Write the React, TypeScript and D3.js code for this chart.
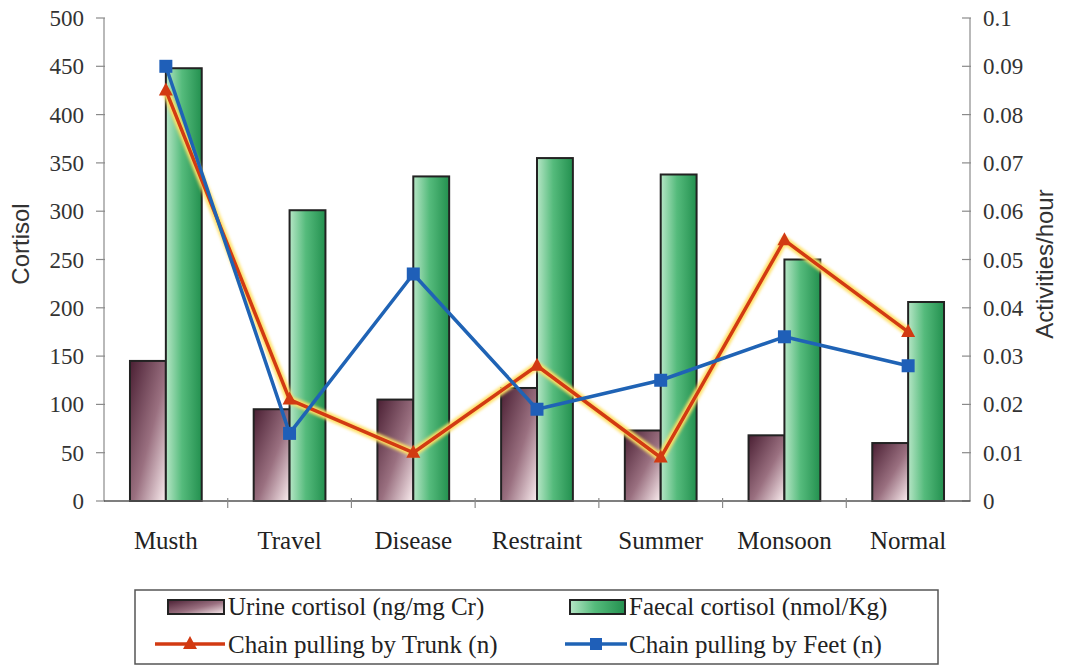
import React from "react";
import * as d3 from "d3";

const categories = ["Musth", "Travel", "Disease", "Restraint", "Summer", "Monsoon", "Normal"];
const urineCortisol = [145, 95, 105, 117, 73, 68, 60];
const faecalCortisol = [448, 301, 336, 355, 338, 250, 206];
const chainTrunk = [0.085, 0.021, 0.01, 0.028, 0.009, 0.054, 0.035];
const chainFeet = [0.09, 0.014, 0.047, 0.019, 0.025, 0.034, 0.028];
const leftTicks = [0, 50, 100, 150, 200, 250, 300, 350, 400, 450, 500];
const rightTicks = [0, 0.01, 0.02, 0.03, 0.04, 0.05, 0.06, 0.07, 0.08, 0.09, 0.1];

const W = 1075, H = 668;
const X0 = 104, X1 = 970, Y0 = 501, Y1 = 18;
const SERIF = { fontFamily: "'Liberation Serif', 'Times New Roman', serif" };
const SANS = { fontFamily: "'Liberation Sans', Arial, sans-serif" };

export default function App() {
  const x = d3.scaleBand<string>().domain(categories).range([X0, X1]);
  const yL = d3.scaleLinear().domain([0, 500]).range([Y0, Y1]);
  const yR = d3.scaleLinear().domain([0, 0.1]).range([Y0, Y1]);
  const bw = x.bandwidth() * 0.29;
  const cx = (c: string) => (x(c) as number) + x.bandwidth() / 2;
  const line = d3.line<number>().x((_, i) => cx(categories[i])).y((d) => yR(d));

  return (
    <svg width={W} height={H} style={{ position: "absolute", left: 0, top: 0, background: "#fff" }}>
      <defs>
        <linearGradient id="urine" x1="0" y1="0" x2="1" y2="1">
          <stop offset="0" stopColor="#4a1f33" />
          <stop offset="0.55" stopColor="#9a7080" />
          <stop offset="1" stopColor="#fbeef0" />
        </linearGradient>
        <linearGradient id="faecal" x1="0" y1="0" x2="1" y2="0">
          <stop offset="0" stopColor="#b6e6c6" />
          <stop offset="0.45" stopColor="#55bb7c" />
          <stop offset="1" stopColor="#23904f" />
        </linearGradient>
        <filter id="glow" x="-10%" y="-10%" width="120%" height="120%">
          <feGaussianBlur stdDeviation="1.5" />
        </filter>
      </defs>

      {/* left axis */}
      <line x1={X0} x2={X0} y1={Y1} y2={Y0} stroke="#8a8a8a" strokeWidth={1.2} />
      {leftTicks.map((t) => (
        <g key={"l" + t}>
          <line x1={X0 - 8} x2={X0 + 1} y1={yL(t)} y2={yL(t)} stroke="#8a8a8a" strokeWidth={1.2} />
          <text x={X0 - 20} y={yL(t)} dy="0.35em" textAnchor="end" style={SERIF} fontSize={23} fill="#333">
            {t}
          </text>
        </g>
      ))}
      <text transform={`translate(29,244) rotate(-90)`} textAnchor="middle" style={SANS} fontSize={24} fill="#333">
        Cortisol
      </text>

      {/* right axis */}
      <line x1={X1} x2={X1} y1={Y1} y2={Y0} stroke="#8a8a8a" strokeWidth={1.2} />
      {rightTicks.map((t) => (
        <g key={"r" + t}>
          <line x1={X1 - 8} x2={X1 + 1} y1={yR(t)} y2={yR(t)} stroke="#8a8a8a" strokeWidth={1.2} />
          <text x={X1 + 13} y={yR(t)} dy="0.35em" textAnchor="start" style={SERIF} fontSize={23} fill="#333">
            {t === 0 ? "0" : String(t)}
          </text>
        </g>
      ))}
      <text transform={`translate(1053,264) rotate(-90)`} textAnchor="middle" style={SANS} fontSize={24} fill="#333">
        Activities/hour
      </text>

      {/* bars */}
      {categories.map((c, i) => (
        <g key={c}>
          <rect x={cx(c) - bw} y={yL(urineCortisol[i])} width={bw} height={Y0 - yL(urineCortisol[i])} fill="url(#urine)" stroke="#222" strokeWidth={2} />
          <rect x={cx(c)} y={yL(faecalCortisol[i])} width={bw} height={Y0 - yL(faecalCortisol[i])} fill="url(#faecal)" stroke="#222" strokeWidth={2} />
        </g>
      ))}

      {/* x axis */}
      <line x1={X0} x2={X1} y1={Y0} y2={Y0} stroke="#555" strokeWidth={1.5} />
      {categories.slice(1).map((c) => (
        <line key={"xt" + c} x1={x(c) as number} x2={x(c) as number} y1={Y0 - 3} y2={Y0 + 7} stroke="#8a8a8a" strokeWidth={1.2} />
      ))}
      {categories.map((c) => (
        <text key={"xl" + c} x={cx(c)} y={549} textAnchor="middle" style={SERIF} fontSize={25} fill="#222">
          {c}
        </text>
      ))}

      {/* trunk line with glow */}
      <path d={line(chainTrunk) as string} fill="none" stroke="#ffe066" strokeWidth={8} strokeLinejoin="round" filter="url(#glow)" />
      <path d={line(chainTrunk) as string} fill="none" stroke="#d23a12" strokeWidth={3.5} strokeLinejoin="round" />
      {chainTrunk.map((v, i) => {
        const px = cx(categories[i]), py = yR(v);
        return <path key={"tr" + i} d={`M${px},${py - 8}L${px + 7},${py + 5}L${px - 7},${py + 5}Z`} fill="#d23a12" />;
      })}

      {/* feet line */}
      <path d={line(chainFeet) as string} fill="none" stroke="#1f63b5" strokeWidth={3.5} strokeLinejoin="round" />
      {chainFeet.map((v, i) => {
        const px = cx(categories[i]), py = yR(v);
        return <rect key={"ft" + i} x={px - 6.5} y={py - 6.5} width={13} height={13} fill="#1f5fb8" />;
      })}

      {/* legend */}
      <rect x={135} y={590} width={803} height={74} fill="#fff" stroke="#555" strokeWidth={1.5} />
      <rect x={168} y={600} width={56} height={14} fill="url(#urine)" stroke="#222" strokeWidth={2} />
      <text x={228} y={615} style={SERIF} fontSize={25} fill="#222">Urine cortisol (ng/mg Cr)</text>
      <rect x={570} y={600} width={55} height={14} fill="url(#faecal)" stroke="#222" strokeWidth={2} />
      <text x={629} y={615} style={SERIF} fontSize={25} fill="#222">Faecal cortisol (nmol/Kg)</text>

      <line x1={155} x2={225} y1={644} y2={644} stroke="#ffe066" strokeWidth={7} filter="url(#glow)" />
      <line x1={155} x2={225} y1={644} y2={644} stroke="#d23a12" strokeWidth={3.5} />
      <path d={`M190,${636}L197,${649}L183,${649}Z`} fill="#d23a12" />
      <text x={228} y={653} style={SERIF} fontSize={25} fill="#222">Chain pulling by Trunk (n)</text>

      <line x1={565} x2={627} y1={644} y2={644} stroke="#1f63b5" strokeWidth={3.5} />
      <rect x={590} y={638} width={12} height={12} fill="#1f5fb8" />
      <text x={629} y={653} style={SERIF} fontSize={25} fill="#222">Chain pulling by Feet (n)</text>
    </svg>
  );
}
